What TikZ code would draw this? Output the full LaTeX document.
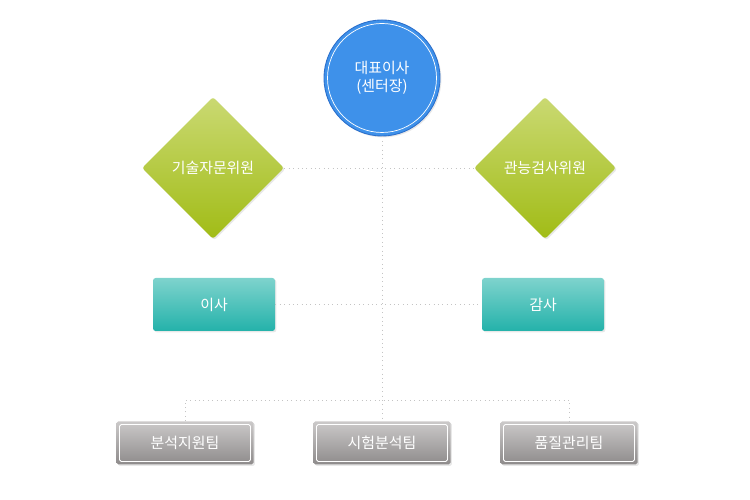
\documentclass[tikz,border=0pt]{standalone}
\usepackage{fontspec}
\newfontfamily\kr{Noto Sans CJK KR}
\usetikzlibrary{shapes.geometric,shadows}

\definecolor{ceoblue}{HTML}{3E91EA}
\definecolor{ceoedge}{HTML}{2C6FCB}
\definecolor{greentop}{HTML}{CAD972}
\definecolor{greenbot}{HTML}{A1BC16}
\definecolor{tealtop}{HTML}{7ED3CD}
\definecolor{tealbot}{HTML}{24B2AA}
\definecolor{graytop}{HTML}{CBC9C9}
\definecolor{graybot}{HTML}{8E8B8B}
\definecolor{linkgray}{HTML}{C4C4C4}

\tikzset{
  txt/.style={text=white, font=\kr\fontsize{8.5pt}{10.5pt}\selectfont},
  soft/.style={drop shadow={opacity=0.18, shadow xshift=0.8pt, shadow yshift=-0.8pt}},
  ceo/.style={txt, circle, soft, fill=ceoblue, draw=ceoedge, line width=0.5pt,
    minimum size=2.32cm, inner sep=0pt, align=center,
    path picture={\draw[white, line width=0.4pt] (path picture bounding box.center) circle (1.09cm);}},
  board/.style={txt, diamond, soft, aspect=1, minimum width=2.84cm, minimum height=2.84cm,
    inner sep=0pt, rounded corners=1.5pt, top color=greentop, bottom color=greenbot},
  officer/.style={txt, rectangle, soft, rounded corners=1.5pt, minimum width=2.44cm,
    minimum height=1.06cm, top color=tealtop, bottom color=tealbot},
  team/.style={txt, rectangle, soft, rounded corners=1pt, minimum width=2.74cm,
    minimum height=0.86cm, top color=graytop, bottom color=graybot,
    path picture={\draw[white, line width=0.5pt]
      ([shift={(0.06,0.06)}]path picture bounding box.south west) rectangle
      ([shift={(-0.06,-0.06)}]path picture bounding box.north east);}},
  link/.style={draw=linkgray, dotted, line width=0.5pt}
}

\begin{document}
\begin{tikzpicture}
\useasboundingbox (0,0) rectangle (15,10);

% connectors first, boxes on top
\coordinate (JL) at (3.70,2.0);
\coordinate (JR) at (11.38,2.0);

\node (CEO) at (7.64,8.44) [ceo] {대표이사\\(센터장)};
\node (ADV) at (4.26,6.64) [board] {기술자문위원};
\node (INS) at (10.90,6.64) [board] {관능검사위원};
\node (DIR) at (4.28,3.91) [officer] {이사};
\node (AUD) at (10.86,3.91) [officer] {감사};
\node (T1) at (3.70,1.14) [team] {분석지원팀};
\node (T2) at (7.64,1.14) [team] {시험분석팀};
\node (T3) at (11.38,1.14) [team] {품질관리팀};

\draw [link] (CEO.south) -- (T2.north);
\draw [link] (ADV.east) -- (INS.west);
\draw [link] (DIR.east) -- (AUD.west);
\draw [link] (T1.north) -- (JL) -- (JR) -- (T3.north);

\end{tikzpicture}
\end{document}
